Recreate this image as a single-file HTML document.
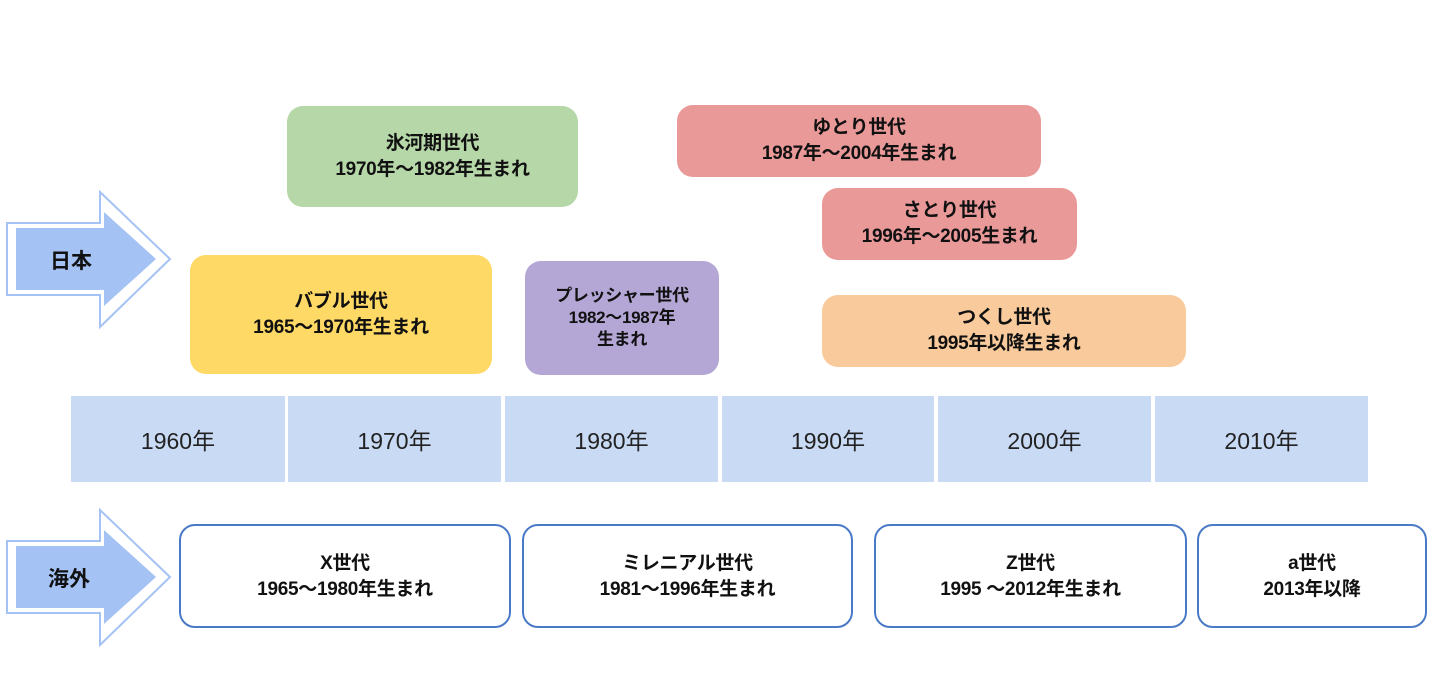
<!DOCTYPE html>
<html><head><meta charset="utf-8"><style>
body{margin:0;width:1440px;height:699px;background:#fff;position:relative;overflow:hidden;font-family:"Liberation Sans","Noto Sans CJK JP",sans-serif}
.b{position:absolute;display:flex;align-items:center;justify-content:center;text-align:center;font-weight:bold;font-size:19px;line-height:26px;color:#111;border-radius:16px;box-sizing:border-box;letter-spacing:-0.3px}
.c{position:absolute;top:396px;height:86px;background:#c9daf5;display:flex;align-items:center;justify-content:center;font-size:23px;color:#222}
.o{background:#fff;border:2px solid #4a7ac7;padding-top:2px}
.lab{position:absolute;font-weight:bold;font-size:21px;color:#111}
</style></head><body>
<svg width="1440" height="699" style="position:absolute;left:0;top:0">
<g>
<polygon points="7,223 100,223 100,192 170,259 100,327 100,295 7,295" fill="#fff" stroke="#a4c2f4" stroke-width="2"/>
<polygon points="16,228 104,228 104,212 156,259 104,306 104,290 16,290" fill="#a4c2f4"/>
</g>
<g transform="translate(0,318)">
<polygon points="7,223 100,223 100,192 170,259 100,327 100,295 7,295" fill="#fff" stroke="#a4c2f4" stroke-width="2"/>
<polygon points="16,228 104,228 104,212 156,259 104,306 104,290 16,290" fill="#a4c2f4"/>
</g>
</svg>
<div class="lab" style="left:50px;top:245px">日本</div>
<div class="lab" style="left:48px;top:563px">海外</div>

<div class="b" style="left:287px;top:106px;width:291px;height:101px;background:#b6d7a8">氷河期世代<br>1970年～1982年生まれ</div>
<div class="b" style="left:677px;top:105px;width:364px;height:72px;background:#ea9999">ゆとり世代<br>1987年～2004年生まれ</div>
<div class="b" style="left:822px;top:188px;width:255px;height:72px;background:#ea9999">さとり世代<br>1996年～2005生まれ</div>
<div class="b" style="left:190px;top:255px;width:302px;height:119px;background:#ffd966">バブル世代<br>1965～1970年生まれ</div>
<div class="b" style="left:525px;top:261px;width:194px;height:114px;background:#b4a7d6;font-size:17px;line-height:22px">プレッシャー世代<br>1982～1987年<br>生まれ</div>
<div class="b" style="left:822px;top:295px;width:364px;height:72px;background:#f9cb9c">つくし世代<br>1995年以降生まれ</div>

<div class="c" style="left:71px;width:214px">1960年</div>
<div class="c" style="left:288px;width:213px">1970年</div>
<div class="c" style="left:505px;width:213px">1980年</div>
<div class="c" style="left:722px;width:212px">1990年</div>
<div class="c" style="left:938px;width:213px">2000年</div>
<div class="c" style="left:1155px;width:213px">2010年</div>

<div class="b o" style="left:179px;top:524px;width:332px;height:104px">X世代<br>1965～1980年生まれ</div>
<div class="b o" style="left:522px;top:524px;width:331px;height:104px">ミレニアル世代<br>1981～1996年生まれ</div>
<div class="b o" style="left:874px;top:524px;width:313px;height:104px">Z世代<br>1995 ～2012年生まれ</div>
<div class="b o" style="left:1197px;top:524px;width:230px;height:104px">a世代<br>2013年以降</div>
</body></html>
